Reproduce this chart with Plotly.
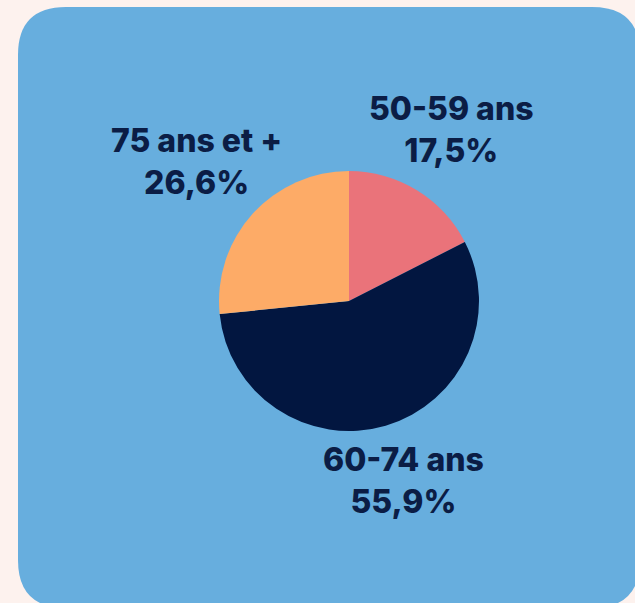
import plotly.graph_objects as go

labels = ["50-59 ans", "60-74 ans", "75 ans et +"]
values = [17.5, 55.9, 26.6]
pct_text = ["17,5%", "55,9%", "26,6%"]
colors = ["#ea737a", "#021640", "#fdab67"]

W, H = 635, 603
fig = go.Figure()

cx, cy, r = 349, 301, 130
fig.add_trace(go.Pie(
    labels=labels, values=values, sort=False, direction="clockwise", rotation=0,
    marker=dict(colors=colors, line=dict(width=0)),
    textinfo="none", hoverinfo="label+percent", showlegend=False,
    domain=dict(x=[(cx - r) / W, (cx + r) / W], y=[(H - cy - r) / H, (H - cy + r) / H]),
))

# rounded blue panel
x0, y0, x1, y1, rad = 18, 7, 640, 608, 48
def px(x): return x / W
def py(y): return 1 - y / H
path = (f"M {px(x0+rad)} {py(y0)} L {px(x1-rad)} {py(y0)} "
        f"Q {px(x1)} {py(y0)} {px(x1)} {py(y0+rad)} "
        f"L {px(x1)} {py(y1-rad)} Q {px(x1)} {py(y1)} {px(x1-rad)} {py(y1)} "
        f"L {px(x0+rad)} {py(y1)} Q {px(x0)} {py(y1)} {px(x0)} {py(y1-rad)} "
        f"L {px(x0)} {py(y0+rad)} Q {px(x0)} {py(y0)} {px(x0+rad)} {py(y0)} Z")
fig.add_shape(type="path", path=path, xref="paper", yref="paper",
              fillcolor="#67aede", line=dict(width=0), layer="below")

label_pos = [(451, 129), (403, 480), (196, 161)]
for lab, pt, (ax, ay) in zip(labels, pct_text, label_pos):
    fig.add_annotation(x=ax / W, y=1 - ay / H, xref="paper", yref="paper",
                       text=f"{lab}<br>{pt}", showarrow=False, align="center",
                       xanchor="center", yanchor="middle",
                       font=dict(family="Inter", size=32, color="#0b1d45", weight=800))

fig.update_layout(width=W, height=H, margin=dict(l=0, r=0, t=0, b=0),
                  paper_bgcolor="#fdf2ee", plot_bgcolor="#fdf2ee")
fig.write_html("out.html")
